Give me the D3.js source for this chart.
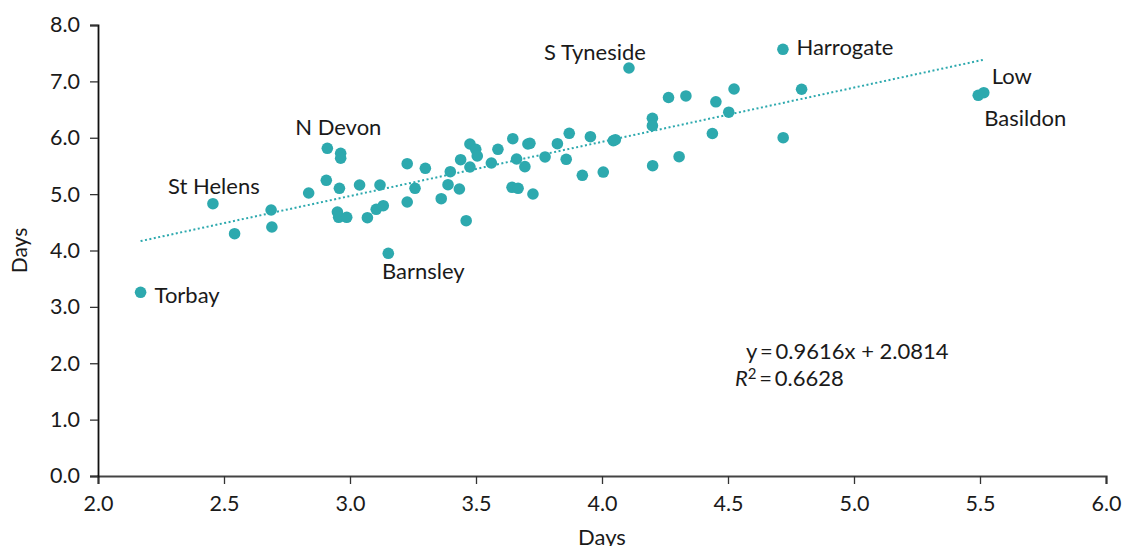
<!DOCTYPE html>
<html>
<head>
<meta charset="utf-8">
<script src="https://cdn.jsdelivr.net/npm/d3@7"></script>
<style>
  html, body { margin: 0; padding: 0; background: #fff; }
  svg text { font-family: Lato, "Open Sans", sans-serif; fill: #1a1a1a; }
</style>
</head>
<body>
<svg id="chart" width="1123" height="546"></svg>
<script>
// ---- data ----
const xValues = [2.169, 2.456, 2.542, 2.687, 2.690, 2.836, 2.906, 2.910, 2.963, 2.963,
  2.958, 2.950, 2.955, 2.987, 3.038, 3.069, 3.104, 3.119, 3.132, 3.152,
  3.227, 3.227, 3.258, 3.299, 3.362, 3.389, 3.398, 3.434, 3.439, 3.461,
  3.476, 3.476, 3.499, 3.505, 3.561, 3.587, 3.646, 3.643, 3.667, 3.661,
  3.694, 3.706, 3.714, 3.726, 3.774, 3.823, 3.858, 3.870, 3.922, 3.954,
  4.005, 4.045, 4.053, 4.107, 4.200, 4.200, 4.201, 4.264, 4.306, 4.333,
  4.438, 4.452, 4.503, 4.524, 4.718, 4.719, 4.792, 5.493, 5.515];
const yValues = [3.259, 4.830, 4.298, 4.718, 4.417, 5.020, 5.245, 5.813, 5.724, 5.636,
  5.103, 4.683, 4.589, 4.589, 5.162, 4.582, 4.731, 5.162, 4.795, 3.950,
  5.540, 4.860, 5.103, 5.458, 4.919, 5.167, 5.398, 5.091, 5.611, 4.529,
  5.889, 5.481, 5.795, 5.676, 5.552, 5.795, 5.983, 5.121, 5.103, 5.623,
  5.487, 5.889, 5.902, 5.002, 5.659, 5.894, 5.618, 6.079, 5.334, 6.019,
  5.392, 5.948, 5.965, 7.237, 6.345, 6.214, 5.504, 6.714, 5.664, 6.741,
  6.075, 6.638, 6.453, 6.865, 7.569, 6.001, 6.860, 6.753, 6.799];
const labelNames = ["Torbay", "St Helens", "N Devon", "Barnsley", "S Tyneside", "Harrogate", "Low", "Basildon"];
const labelIndex = [0, 1, 7, 19, 53, 64, 68, 67];
const xTicks = [2.0, 2.5, 3.0, 3.5, 4.0, 4.5, 5.0, 5.5, 6.0];
const yTicks = [0, 1, 2, 3, 4, 5, 6, 7, 8];
const trendSlope = 0.9616;
const trendIntercept = 2.0814;
const rSquared = "0.6628";
const xTitle = "Days";
const yTitle = "Days";

// ---- layout / style ----
const W = 1123, H = 546;
const margin = { top: 25, right: 17, bottom: 70, left: 98 };
const teal = "#2DA9AE";
const labelOffsets = [
  { dx: 14, dy: 11, anchor: "start" },
  { dx: 1, dy: -10, anchor: "middle" },
  { dx: 11, dy: -13, anchor: "middle" },
  { dx: 35, dy: 26, anchor: "middle" },
  { dx: -34, dy: -8, anchor: "middle" },
  { dx: 13.5, dy: 5.5, anchor: "start" },
  { dx: 8, dy: -9, anchor: "start" },
  { dx: 6, dy: 31, anchor: "start" }
];

const svg = d3.select("#chart");
const x = d3.scaleLinear().domain([2, 6]).range([margin.left, W - margin.right]);
const y = d3.scaleLinear().domain([0, 8]).range([H - margin.bottom, margin.top]);

// axes
const gx = svg.append("g")
  .attr("transform", `translate(0,${H - margin.bottom})`)
  .call(d3.axisBottom(x).tickValues(xTicks).tickFormat(d3.format(".1f")).tickSizeOuter(0).tickSize(8).tickPadding(12));
gx.select(".domain").attr("stroke", "#444").attr("stroke-width", 2.2);
gx.selectAll(".tick line").attr("stroke", "#333").attr("stroke-width", 1.3);
gx.selectAll(".tick text").attr("font-size", 21.5).style("font-family", "Lato").attr("fill", "#1a1a1a");

const gy = svg.append("g")
  .attr("transform", `translate(${margin.left},0)`)
  .call(d3.axisLeft(y).tickValues(yTicks).tickFormat(d3.format(".1f")).tickSizeOuter(0).tickSize(8).tickPadding(10));
gy.select(".domain").attr("stroke", "#111").attr("stroke-width", 1.8);
gy.selectAll(".tick line").attr("stroke", "#333").attr("stroke-width", 1.3);
gy.selectAll(".tick text").attr("font-size", 21.5).style("font-family", "Lato").attr("fill", "#1a1a1a");

// axis titles
svg.append("text")
  .attr("x", (margin.left + W - margin.right) / 2)
  .attr("y", 545)
  .attr("text-anchor", "middle")
  .attr("font-size", 22)
  .text(xTitle);
svg.append("text")
  .attr("transform", `translate(27,${(margin.top + H - margin.bottom) / 2}) rotate(-90)`)
  .attr("text-anchor", "middle")
  .attr("font-size", 21)
  .text(yTitle);

// trend line
const xMin = d3.min(xValues), xMax = d3.max(xValues);
svg.append("line")
  .attr("x1", x(xMin)).attr("y1", y(trendSlope * xMin + trendIntercept))
  .attr("x2", x(xMax)).attr("y2", y(trendSlope * xMax + trendIntercept))
  .attr("stroke", teal)
  .attr("stroke-width", 2)
  .attr("stroke-dasharray", "2,2.5");

// points
const pts = xValues.map((v, i) => ({ x: v, y: yValues[i] }));
svg.append("g").selectAll("circle")
  .data(pts)
  .join("circle")
  .attr("cx", d => x(d.x))
  .attr("cy", d => y(d.y))
  .attr("r", 5.8)
  .attr("fill", teal);

// labels
svg.append("g").selectAll("text")
  .data(labelNames)
  .join("text")
  .attr("x", (d, i) => x(xValues[labelIndex[i]]) + labelOffsets[i].dx)
  .attr("y", (d, i) => y(yValues[labelIndex[i]]) + labelOffsets[i].dy)
  .attr("text-anchor", (d, i) => labelOffsets[i].anchor)
  .attr("font-size", 22)
  .text(d => d);

// equation
const eq = svg.append("g");
eq.append("text")
  .attr("x", 746).attr("y", 359)
  .attr("font-size", 22)
  .text(`y\u2009=\u2009${trendSlope}x + ${trendIntercept}`);
const r2 = eq.append("text")
  .attr("x", 735).attr("y", 386)
  .attr("font-size", 22);
r2.append("tspan").attr("font-style", "italic").text("R");
r2.append("tspan").attr("font-size", 15).attr("dy", -7).text("2");
r2.append("tspan").attr("dy", 7).text(`\u2009=\u2009${rSquared}`);
</script>
</body>
</html>
